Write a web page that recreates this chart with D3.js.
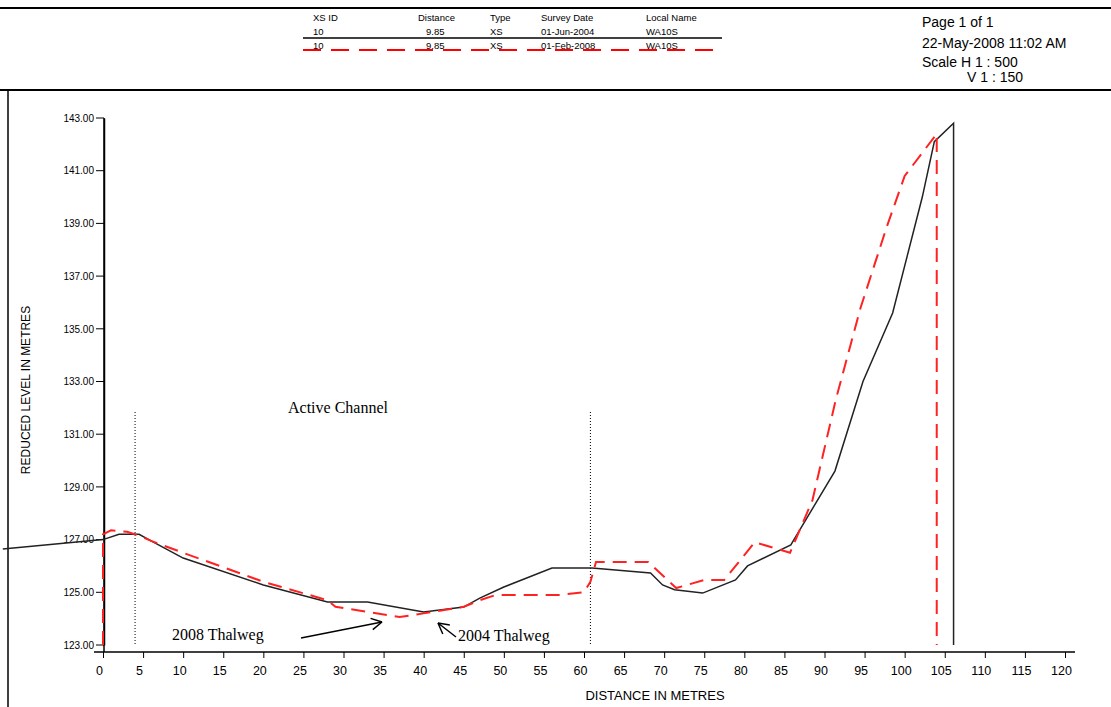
<!DOCTYPE html>
<html><head><meta charset="utf-8">
<script src="https://cdn.jsdelivr.net/npm/d3@7"></script>
<style>body{margin:0;background:#fff}svg{font-family:"Liberation Sans",Arial,sans-serif}</style>
</head><body><svg id="c" width="1111" height="707"></svg>
<script>
// 2004 survey (black)
const dist2004 = [-12.5,0,2,4.5,6,10,20,28,33,40,45,47,50,56,61,68.3,69.8,71.3,74.8,78.9,80.4,85.8,91.3,94.8,98.5,102.2,103.7,106.1,106.1];
const lvl2004  = [126.64,127.0,127.2,127.2,126.95,126.3,125.28,124.63,124.63,124.25,124.44,124.78,125.2,125.92,125.92,125.73,125.28,125.1,124.97,125.47,126.0,126.8,129.6,133.0,135.6,140.0,142.1,142.8,123];
// 2008 survey (red dashed)
const dist2008 = [0,0,1,3,4.5,6,10,20,28,29,37,40,45,47,49,57,60,60.8,61.5,68,71.5,75,77.5,81.3,85.7,88.5,91.4,94.5,97.8,100,104,104];
const lvl2008  = [123,127.2,127.35,127.3,127.15,126.95,126.5,125.4,124.7,124.45,124.06,124.2,124.45,124.7,124.9,124.9,125.0,125.4,126.15,126.15,125.16,125.47,125.47,126.9,126.5,128.5,132.3,135.8,138.9,140.8,142.4,123];
const yTicks = [123,125,127,129,131,133,135,137,139,141,143];
const xTicks = d3.range(0,125,5);
const channel = [4,60.8];

const svg = d3.select('#c');
const x = d3.scaleLinear().domain([0,120]).range([103,1065]);
const y = d3.scaleLinear().domain([123,143]).range([645,118]);

// frame
svg.append('line').attr('x1',0).attr('x2',1111).attr('y1',8).attr('y2',8).attr('stroke','#000').attr('stroke-width',2);
svg.append('line').attr('x1',0).attr('x2',1111).attr('y1',90).attr('y2',90).attr('stroke','#000').attr('stroke-width',2);
svg.append('line').attr('x1',8).attr('x2',8).attr('y1',90).attr('y2',707).attr('stroke','#000').attr('stroke-width',1.5);

// header table
const cols = [313,418,490,541,646];
const heads = ['XS ID','Distance','Type','Survey Date','Local Name'];
const row1 = ['10','9.85','XS','01-Jun-2004','WA10S'];
const row2 = ['10','9.85','XS','01-Feb-2008','WA10S'];
[heads,row1,row2].forEach((r,i) => {
  r.forEach((t,j) => svg.append('text').attr('x',cols[j] + (i>0&&j==1?8:0)).attr('y',21+i*14).attr('font-size',9.5).text(t));
});
svg.append('line').attr('x1',303).attr('x2',722).attr('y1',38).attr('y2',38).attr('stroke','#000').attr('stroke-width',1.5);
svg.append('line').attr('x1',303).attr('x2',722).attr('y1',50).attr('y2',50).attr('stroke','#f00').attr('stroke-width',2).attr('stroke-dasharray','18,10');
const right = ['Page 1 of 1','22-May-2008 11:02 AM','Scale H 1 : 500'];
right.forEach((t,i) => svg.append('text').attr('x',922).attr('y',[27,48,67][i]).attr('font-size',14).text(t));
svg.append('text').attr('x',967).attr('y',82).attr('font-size',14).text('V 1 : 150');

// axes
const ya = svg.append('g').attr('transform','translate(104,0)')
  .call(d3.axisLeft(y).tickValues(yTicks).tickFormat(d3.format('.2f')).tickSize(0).tickPadding(10));
ya.select('.domain').attr('stroke-width',1.5);
ya.selectAll('text').attr('font-size',10).attr('font-family','Liberation Sans');
ya.append('line').attr('y1',118).attr('y2',652).attr('stroke','#000').attr('stroke-width',1.5);
yTicks.forEach(v => svg.append('line').attr('x1',96).attr('x2',104).attr('y1',y(v)).attr('y2',y(v)).attr('stroke','#000'));
const xa = svg.append('g').attr('transform','translate(0,652)')
  .call(d3.axisBottom(x).tickValues(xTicks).tickFormat(d3.format('d')).tickSize(6).tickPadding(8).tickSizeOuter(0));
xa.select('.domain').attr('d','M94,0H1075').attr('stroke-width',1.5);
xa.selectAll('text').attr('font-size',12.5).attr('font-family','Liberation Sans').attr('dx',-4);
svg.append('text').attr('x',655).attr('y',700).attr('text-anchor','middle').attr('font-size',13).text('DISTANCE IN METRES');
svg.append('text').attr('transform','translate(30,390) rotate(-90)').attr('text-anchor','middle').attr('font-size',12).text('REDUCED LEVEL IN METRES');

// channel
channel.forEach(d => svg.append('line').attr('x1',x(d)).attr('x2',x(d)).attr('y1',412).attr('y2',646).attr('stroke','#000').attr('stroke-dasharray','1,2'));
svg.append('text').attr('x',288).attr('y',413).attr('font-family','Liberation Serif').attr('font-size',16).text('Active Channel');

// lines
const line = d3.line().x(d => x(d[0])).y(d => y(d[1]));
svg.append('path').datum(d3.zip(dist2004,lvl2004)).attr('d',line).attr('fill','none').attr('stroke','#222').attr('stroke-width',1.5);
svg.append('path').datum(d3.zip(dist2008,lvl2008)).attr('d',line).attr('fill','none').attr('stroke','#f22').attr('stroke-width',2).attr('stroke-dasharray','14,8');

// annotations
svg.append('text').attr('x',172).attr('y',640).attr('font-family','Liberation Serif').attr('font-size',16).text('2008 Thalweg');
svg.append('text').attr('x',458).attr('y',641).attr('font-family','Liberation Serif').attr('font-size',16).text('2004 Thalweg');
function arrow(x1,y1,x2,y2){
  svg.append('line').attr('x1',x1).attr('y1',y1).attr('x2',x2).attr('y2',y2).attr('stroke','#000').attr('stroke-width',1.5);
  const a = Math.atan2(y2-y1,x2-x1);
  [0.5,-0.5].forEach(s => svg.append('line').attr('x1',x2).attr('y1',y2)
    .attr('x2',x2-12*Math.cos(a+s)).attr('y2',y2-12*Math.sin(a+s)).attr('stroke','#000').attr('stroke-width',1.5));
}
arrow(301,638,382,622);
arrow(456,637,438,623);
</script></body></html>
